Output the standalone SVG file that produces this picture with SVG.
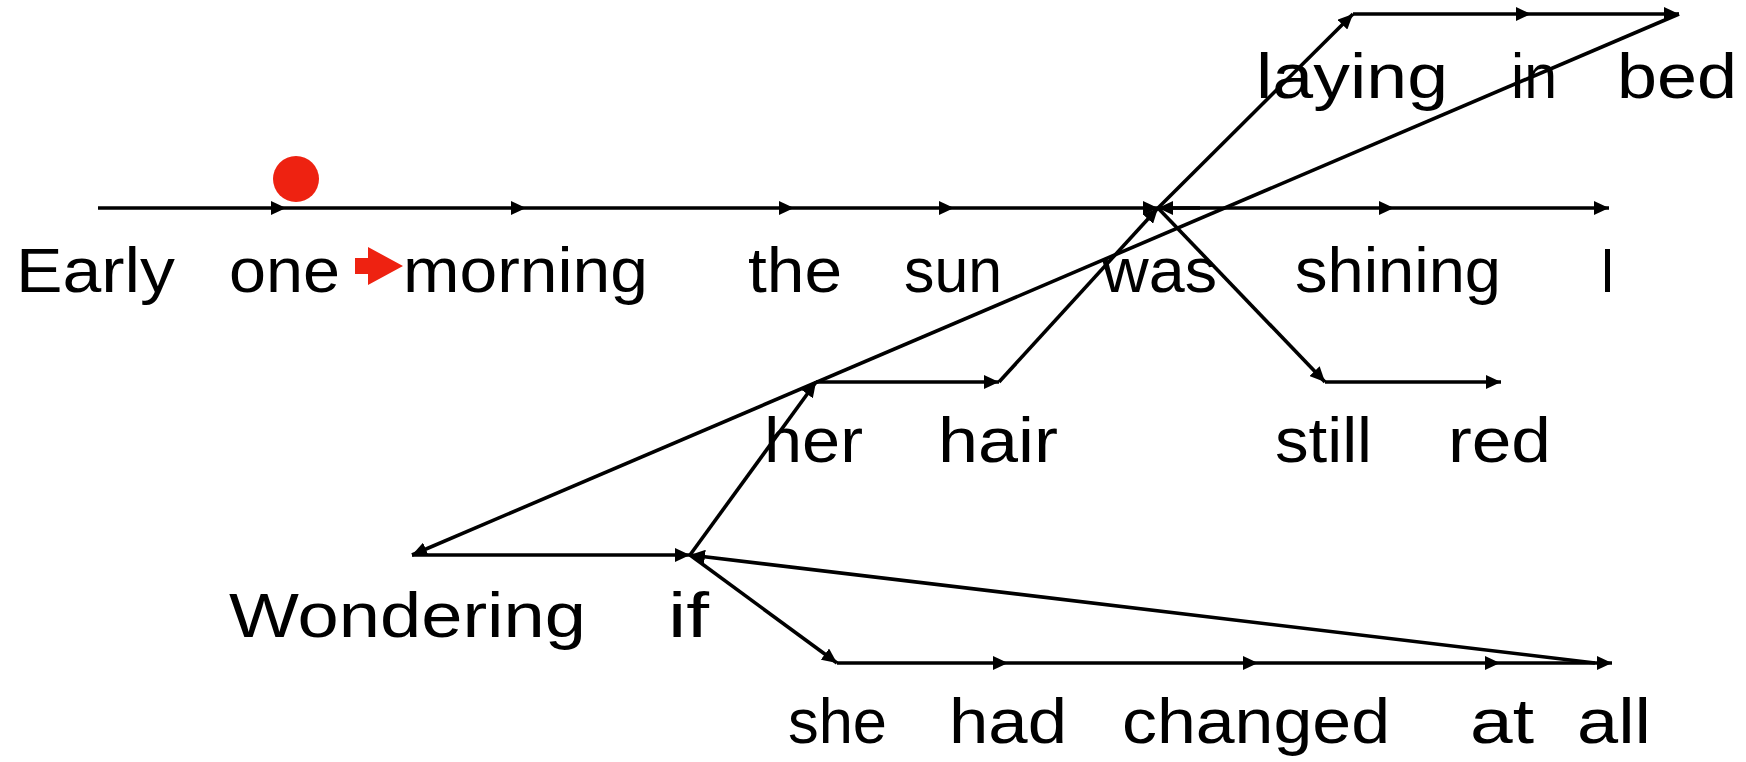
<svg xmlns="http://www.w3.org/2000/svg" width="1746" height="762" viewBox="0 0 1746 762">
<style>
text{font-family:"Liberation Sans",Arial,sans-serif;font-size:63px;fill:#000}
.c{stroke:#000;stroke-width:3.6;fill:none;marker-end:url(#ah)}
</style>
<defs>
<marker id="ah" markerUnits="userSpaceOnUse" markerWidth="16" markerHeight="14" refX="15" refY="7" orient="auto"><path d="M0,0 L15,7 L0,14 z" fill="#000"/></marker>
</defs>
<rect width="1746" height="762" fill="#fff"/>
<g id="connectors">
<line class="c" x1="98" y1="208" x2="286" y2="208"/>
<line class="c" x1="286" y1="208" x2="526" y2="208"/>
<line class="c" x1="526" y1="208" x2="794" y2="208"/>
<line class="c" x1="794" y1="208" x2="954" y2="208"/>
<line class="c" x1="954" y1="208" x2="1158" y2="208"/>
<line class="c" x1="1158" y1="208" x2="1394" y2="208"/>
<line class="c" x1="1394" y1="208" x2="1609" y2="208"/>
<line class="c" x1="1200" y1="208" x2="1158" y2="208"/>
<line class="c" x1="1158" y1="208" x2="1353" y2="14"/>
<line class="c" x1="1353" y1="14" x2="1531" y2="14"/>
<line class="c" x1="1531" y1="14" x2="1679" y2="14"/>
<line class="c" x1="1679" y1="14" x2="412" y2="555"/>
<line class="c" x1="412" y1="555" x2="690" y2="555"/>
<line class="c" x1="690" y1="555" x2="816" y2="382"/>
<line class="c" x1="816" y1="382" x2="999" y2="382"/>
<line class="c" x1="999" y1="382" x2="1158" y2="208"/>
<line class="c" x1="1158" y1="208" x2="1325" y2="382"/>
<line class="c" x1="1325" y1="382" x2="1501" y2="382"/>
<line class="c" x1="690" y1="555" x2="837" y2="663"/>
<line class="c" x1="837" y1="663" x2="1008" y2="663"/>
<line class="c" x1="1008" y1="663" x2="1258" y2="663"/>
<line class="c" x1="1258" y1="663" x2="1500" y2="663"/>
<line class="c" x1="1500" y1="663" x2="1612" y2="663"/>
<line class="c" x1="1595" y1="663" x2="690" y2="555"/>
</g>
<g id="marker-red">
<circle cx="296" cy="179" r="23" fill="#ee2211"/>
<path d="M355,258 L368,258 L368,247 L403,266 L368,285 L368,274 L355,274 z" fill="#ee2211"/>
</g>
<g id="row-main">
<text x="16" y="292" textLength="159" lengthAdjust="spacingAndGlyphs">Early</text>
<text x="229" y="292" textLength="111" lengthAdjust="spacingAndGlyphs">one</text>
<text x="403" y="292" textLength="245" lengthAdjust="spacingAndGlyphs">morning</text>
<text x="748" y="292" textLength="94" lengthAdjust="spacingAndGlyphs">the</text>
<text x="904" y="292" textLength="98" lengthAdjust="spacingAndGlyphs">sun</text>
<text x="1102" y="292" textLength="115" lengthAdjust="spacingAndGlyphs">was</text>
<text x="1295" y="292" textLength="206" lengthAdjust="spacingAndGlyphs">shining</text>
<text x="1600" y="292" textLength="15" lengthAdjust="spacingAndGlyphs">I</text>
</g>
<g id="row-top">
<text x="1256" y="98" textLength="192" lengthAdjust="spacingAndGlyphs">laying</text>
<text x="1511" y="98" textLength="46" lengthAdjust="spacingAndGlyphs">in</text>
<text x="1617" y="98" textLength="120" lengthAdjust="spacingAndGlyphs">bed</text>
</g>
<g id="row-her">
<text x="764" y="462" textLength="99" lengthAdjust="spacingAndGlyphs">her</text>
<text x="938" y="462" textLength="120" lengthAdjust="spacingAndGlyphs">hair</text>
<text x="1275" y="462" textLength="97" lengthAdjust="spacingAndGlyphs">still</text>
<text x="1448" y="462" textLength="103" lengthAdjust="spacingAndGlyphs">red</text>
</g>
<g id="row-wondering">
<text x="229" y="637" textLength="357" lengthAdjust="spacingAndGlyphs">Wondering</text>
<text x="668" y="637" textLength="41" lengthAdjust="spacingAndGlyphs">if</text>
</g>
<g id="row-she">
<text x="788" y="743" textLength="99" lengthAdjust="spacingAndGlyphs">she</text>
<text x="949" y="743" textLength="118" lengthAdjust="spacingAndGlyphs">had</text>
<text x="1122" y="743" textLength="268" lengthAdjust="spacingAndGlyphs">changed</text>
<text x="1470" y="743" textLength="64" lengthAdjust="spacingAndGlyphs">at</text>
<text x="1577" y="743" textLength="74" lengthAdjust="spacingAndGlyphs">all</text>
</g>
</svg>
